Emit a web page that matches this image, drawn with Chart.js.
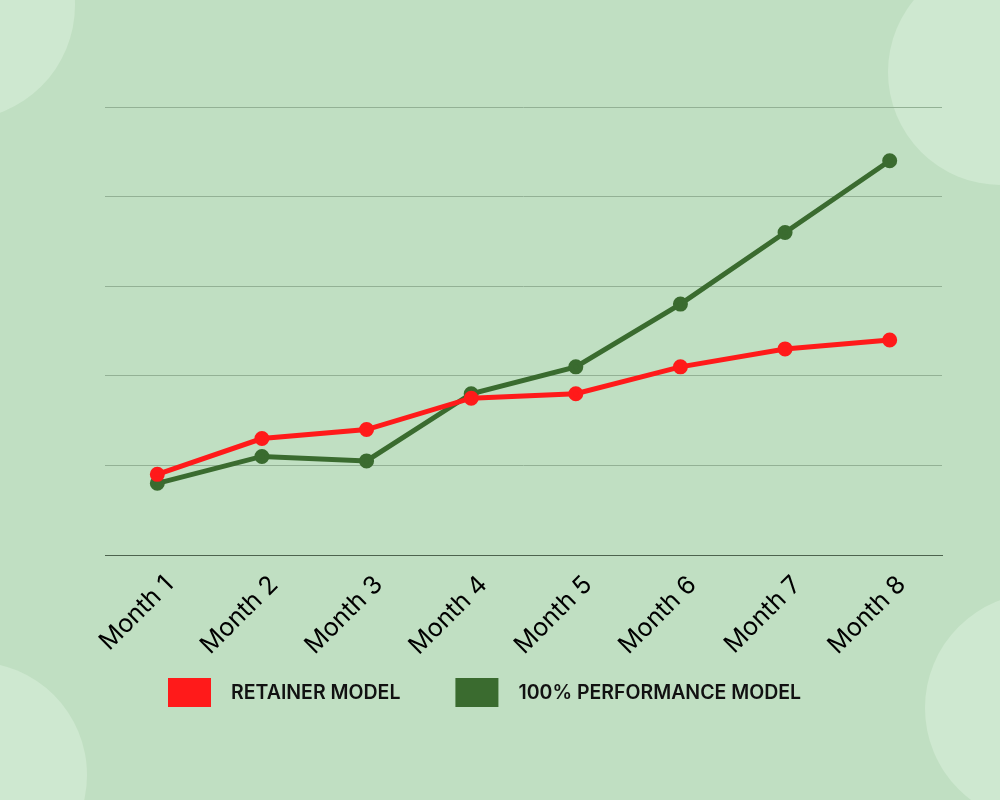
<!DOCTYPE html>
<html>
<head>
<meta charset="utf-8">
<script src="https://cdn.jsdelivr.net/npm/chart.js@4.4.1/dist/chart.umd.min.js"></script>
<style>
  html, body { margin: 0; padding: 0; }
  body { width: 1000px; height: 800px; background: #c0dfc2; position: relative; overflow: hidden; }
  .blob { position: absolute; border-radius: 50%; background: #cee8d0; }
  #wrap { position: absolute; left: 0; top: 0; width: 1000px; height: 800px; }
</style>
</head>
<body>
<div class="blob" style="left:-155px; top:-110px; width:230px; height:230px;"></div>
<div class="blob" style="left:888px; top:-41px; width:226px; height:226px;"></div>
<div class="blob" style="left:-139px; top:662px; width:226px; height:226px;"></div>
<div class="blob" style="left:925px; top:593px; width:230px; height:230px;"></div>
<div id="wrap"><canvas id="grafico"></canvas></div>
<script>
var meses = ["Month 1", "Month 2", "Month 3", "Month 4", "Month 5", "Month 6", "Month 7", "Month 8"];

var retainer = [0.9, 1.3, 1.4, 1.75, 1.8, 2.1, 2.3, 2.4];

var performance = [0.8, 1.1, 1.05, 1.8, 2.1, 2.8, 3.6, 4.4];

var yTicks = [0, 1, 2, 3, 4, 5];

// legenda desenhada a mao, com as cores dos datasets
var legendaPlugin = {
    id: "legenda",
    afterDraw: function (chart) {
        var ctx = chart.ctx;
        var itens = chart.data.datasets;
        ctx.save();
        ctx.font = "600 19.5px Inter";
        ctx.textBaseline = "middle";
        var boxW = 43, boxH = 29, gapTexto = 20, gapItem = 55;
        var x = 168;
        var y = 678;
        for (var i = 0; i < itens.length; i++) {
            ctx.fillStyle = itens[i].borderColor;
            ctx.fillRect(x, y, boxW, boxH);
            x += boxW + gapTexto;
            ctx.fillStyle = "#111111";
            ctx.fillText(itens[i].label, x, y + boxH / 2 + 1);
            x += ctx.measureText(itens[i].label).width + gapItem;
        }
        ctx.restore();
    }
};

var referencia = document.querySelector("#grafico").getContext("2d");

var grafico = new Chart(referencia, {
    type: "line",
    data: {
        labels: meses,
        datasets: [{
            label: "RETAINER MODEL",
            data: retainer,
            borderColor: "#ff1a1a",
            backgroundColor: "#ff1a1a",
            borderWidth: 5,
            pointRadius: 5,
            pointHoverRadius: 5,
            tension: 0
        },
        {
            label: "100% PERFORMANCE MODEL",
            data: performance,
            borderColor: "#3a6b2f",
            backgroundColor: "#3a6b2f",
            borderWidth: 5,
            pointRadius: 5,
            pointHoverRadius: 5,
            tension: 0
        }]
    },
    options: {
        responsive: true,
        maintainAspectRatio: false,
        animation: false,
        layout: {
            padding: { left: 105, right: 58, top: 107, bottom: 0 }
        },
        plugins: {
            legend: { display: false },
            tooltip: { enabled: false }
        },
        scales: {
            x: {
                offset: true,
                grid: { display: false, drawTicks: false },
                border: { display: true, color: "#4d634e", width: 1 },
                ticks: {
                    maxRotation: 45,
                    minRotation: 45,
                    padding: 15,
                    labelOffset: 12,
                    color: "#000000",
                    font: { family: "Inter", size: 25, weight: "400" }
                },
                afterFit: function (s) { s.height = 245; }
            },
            y: {
                min: 0,
                max: 5,
                afterBuildTicks: function (s) {
                    s.ticks = yTicks.map(function (v) { return { value: v }; });
                },
                grid: {
                    drawTicks: false,
                    color: function (c) { return c.tick.value === 0 ? "#4d634e" : "#93b195"; },
                    lineWidth: 1
                },
                border: { display: false },
                ticks: { display: false },
                afterFit: function (s) { s.width = 0; }
            }
        }
    },
    plugins: [legendaPlugin]
});
</script>
</body>
</html>
